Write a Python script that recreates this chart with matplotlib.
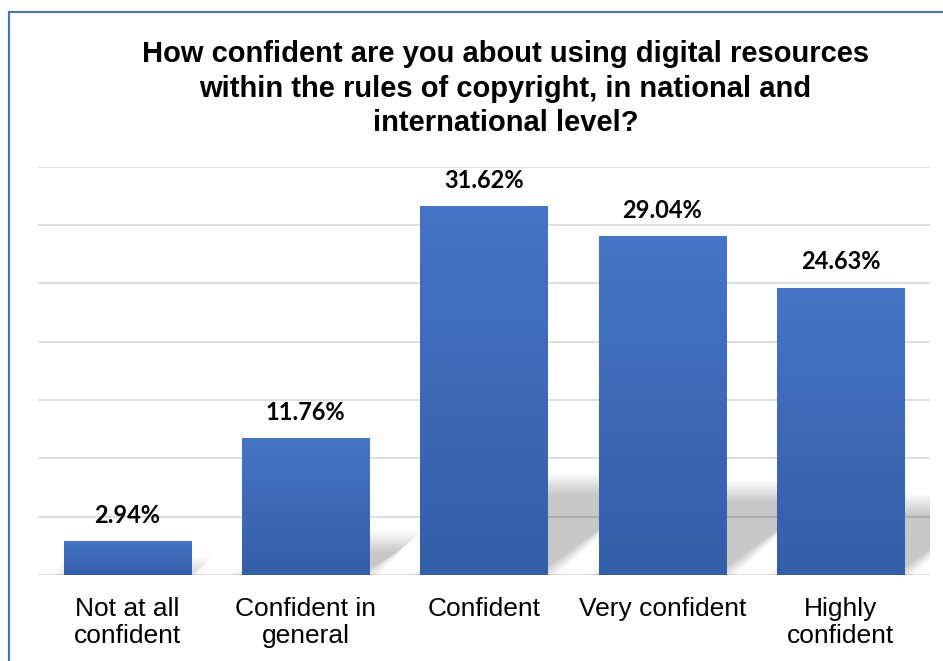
import numpy as np
import matplotlib
matplotlib.use("Agg")
import matplotlib.pyplot as plt
from matplotlib.patches import Polygon
from matplotlib.lines import Line2D

# data
categories = ["Not at all\nconfident", "Confident in\ngeneral", "Confident",
              "Very confident", "Highly\nconfident"]
values = [2.94, 11.76, 31.62, 29.04, 24.63]
labels = ["2.94%", "11.76%", "31.62%", "29.04%", "24.63%"]
title = ("How confident are you about using digital resources\n"
         "within the rules of copyright, in national and\n"
         "international level?")

fig = plt.figure(figsize=(9.43, 6.61), dpi=100)
ax = fig.add_axes([0.0403, 0.1301, 0.946, 0.618])

x = np.arange(len(values))
width = 0.714

# gridlines every 5%
ax.set_yticks(np.arange(0, 36, 5))
ax.yaxis.grid(True, color="#d9d9d9", lw=1.2, zorder=0)
ax.set_axisbelow(True)
ax.tick_params(axis="y", left=False, labelleft=False)
ax.tick_params(axis="x", bottom=False, pad=12)
for s in ax.spines.values():
    s.set_visible(False)

# soft perspective shadows behind the bars
n = 14
for xi, v in zip(x, values):
    h = 0.25 * v
    dx = 0.0198 * v
    x0 = xi - width / 2
    x1 = xi + width / 2
    for k in range(n):
        e = (k - n / 2) * 1.6  # px offset for blur
        ex = e / 177.0
        ey = e / 11.67
        pts = [(x0 - ex, 0), (x1 + ex, 0), (x1 + dx + ex, h + ey), (x0 + dx - ex, h + ey)]
        ax.add_patch(Polygon(pts, closed=True, facecolor="black", edgecolor="none",
                             alpha=0.016, zorder=1))

bars = ax.bar(x, values, width=width, color="#4472C4", zorder=2)

# vertical gradient on each bar, lighter at the top
grad = np.linspace(0, 1, 100).reshape(-1, 1)
cmap = matplotlib.colors.LinearSegmentedColormap.from_list("bar", ["#4674C6", "#345EA8"])
for b in bars:
    im = ax.imshow(grad, cmap=cmap, aspect="auto", zorder=2.5,
                   extent=[b.get_x(), b.get_x() + b.get_width(), 0, b.get_height()])
    im.set_clip_path(b)
ax.set_xlim(-0.5, len(values) - 0.5)
ax.set_ylim(0, 35)

for xi, v, t in zip(x, values, labels):
    ax.text(xi, v + 1.55, t, ha="center", va="baseline", fontsize=17,
            fontweight="bold", family="Lato", color="black", zorder=3)

ax.set_xticks(x)
ax.set_xticklabels(categories, fontsize=19, family="Liberation Sans",
                   linespacing=1.2)

fig.text(0.536, 1 - 40 / 661, title, ha="center", va="top", fontsize=21,
         fontweight="bold", family="Liberation Sans", linespacing=1.3)

# chart border (left and top edges visible)
fig.add_artist(Line2D([8.5 / 943, 8.5 / 943], [0, 1 - 12 / 661],
                      transform=fig.transFigure, color="#4472C4", lw=1.5))
fig.add_artist(Line2D([8.5 / 943, 1], [1 - 12 / 661, 1 - 12 / 661],
                      transform=fig.transFigure, color="#4472C4", lw=1.5))

fig.savefig("out.png", dpi=100)
